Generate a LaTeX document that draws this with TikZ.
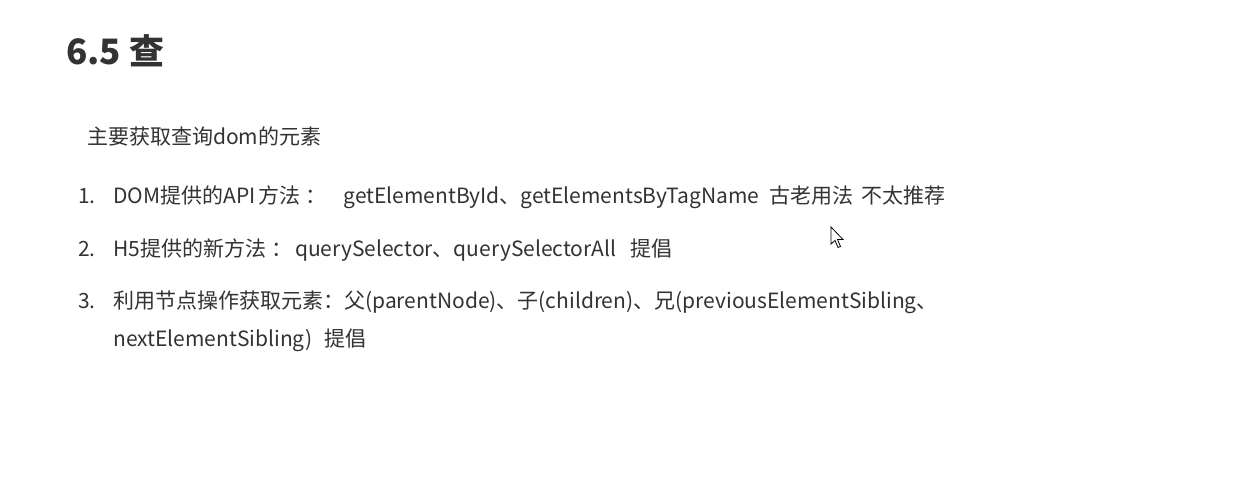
\documentclass[tikz,border=0pt]{standalone}
\usepackage{fontspec}
\setmainfont{Noto Sans CJK SC}
\definecolor{txt}{HTML}{333333}
\begin{document}
\begin{tikzpicture}[x=1pt,y=-1pt,
  body/.style={anchor=base west,inner sep=0pt,text=txt,font=\fontsize{21}{25}\selectfont},
  head/.style={anchor=base west,inner sep=0pt,text=txt,font=\fontsize{35}{42}\selectfont\bfseries}]
\useasboundingbox[fill=white] (0,0) rectangle (1260,485);
\node[head] (title) at (66,64) {6.5 查};
\node[body] (intro) at (87,144) {主要获取查询dom的元素};
\node[body] (n1) at (78,203) {1.};
\node[body] (l1) at (113,203) {DOM提供的API\hspace{3pt}方法\hspace{5pt}：\hspace{17pt}getElementById、getElementsByTagName\hspace{10pt}古老用法\hspace{8pt}不太推荐};
\node[body] (n2) at (78,256) {2.};
\node[body] (l2) at (113,256) {H5提供的新方法\hspace{5pt}：\hspace{3pt}querySelector、querySelectorAll\ \ \ 提倡};
\node[body] (n3) at (78,308) {3.};
\node[body] (l3) at (113,308) {利用节点操作获取元素：父(parentNode)、子(children)、兄(previousElementSibling、};
\node[body] (l3b) at (113,346) {nextElementSibling)\hspace{12pt}提倡};
\draw[black,fill=white,line width=0.8pt,line join=miter] (831,227) -- (831,244) -- (835,240.5) -- (838,247.5) -- (840.5,246.5) -- (837.5,239.5) -- (843,239.5) -- cycle;
\end{tikzpicture}
\end{document}
